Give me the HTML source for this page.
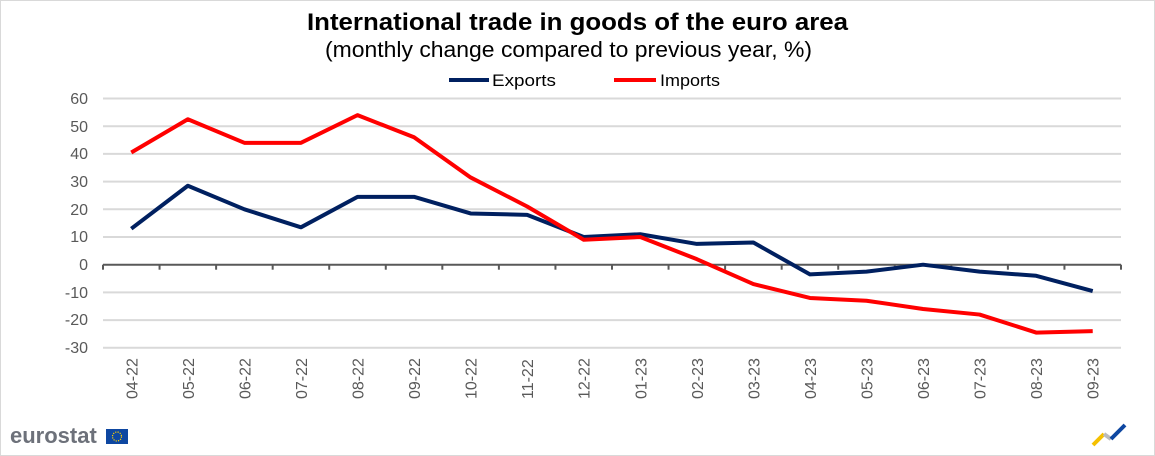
<!DOCTYPE html>
<html><head><meta charset="utf-8"><style>
body{margin:0;background:#fff}
svg{display:block;font-family:"Liberation Sans",sans-serif}
</style></head><body>
<svg width="1155" height="456" viewBox="0 0 1155 456" xmlns="http://www.w3.org/2000/svg">
<rect x="0.5" y="0.5" width="1154" height="455" fill="#fff" stroke="#d9d9d9"/>
<text x="307" y="30" font-size="24" font-weight="bold" fill="#000" textLength="541" lengthAdjust="spacingAndGlyphs">International trade in goods of the euro area</text>
<text x="325" y="57" font-size="22" fill="#000" textLength="487" lengthAdjust="spacingAndGlyphs">(monthly change compared to previous year, %)</text>
<line x1="449" y1="80" x2="489" y2="80" stroke="#002060" stroke-width="4"/>
<text x="492" y="86" font-size="17" fill="#000" textLength="64" lengthAdjust="spacingAndGlyphs">Exports</text>
<line x1="614" y1="80" x2="656" y2="80" stroke="#ff0000" stroke-width="4"/>
<text x="660" y="86" font-size="17" fill="#000" textLength="60" lengthAdjust="spacingAndGlyphs">Imports</text>
<g stroke="#d9d9d9" stroke-width="2">
<line x1="103" x2="1121" y1="98.5" y2="98.5"/>
<line x1="103" x2="1121" y1="126.2" y2="126.2"/>
<line x1="103" x2="1121" y1="153.9" y2="153.9"/>
<line x1="103" x2="1121" y1="181.6" y2="181.6"/>
<line x1="103" x2="1121" y1="209.3" y2="209.3"/>
<line x1="103" x2="1121" y1="237" y2="237"/>
<line x1="103" x2="1121" y1="292.4" y2="292.4"/>
<line x1="103" x2="1121" y1="320.1" y2="320.1"/>
<line x1="103" x2="1121" y1="347.8" y2="347.8"/>
</g>
<g font-size="16" fill="#595959" text-anchor="end">
<text x="88" y="104">60</text><text x="88" y="132">50</text><text x="88" y="159">40</text>
<text x="88" y="187">30</text><text x="88" y="215">20</text><text x="88" y="242">10</text>
<text x="88" y="270">0</text><text x="88" y="298">-10</text><text x="88" y="325">-20</text><text x="88" y="353">-30</text>
</g>
<g id="ax"></g>
<polyline fill="none" stroke="#002060" stroke-width="4" stroke-linejoin="round" points=""  id="ex"/>
<polyline fill="none" stroke="#ff0000" stroke-width="4" stroke-linejoin="round" points="" id="im"/>
<g id="xl" font-size="16" fill="#595959"></g>
<text x="10" y="443" font-size="22" font-weight="bold" fill="#6d717a">eurostat</text>
<rect x="106" y="429" width="22" height="15" fill="#0e47a1"/>
<circle cx="117" cy="436.5" r="4.5" fill="none" stroke="#ffd200" stroke-width="1.2" stroke-dasharray="1.2 1.2"/>
<line x1="1093" y1="445" x2="1104" y2="434" stroke="#f5c000" stroke-width="4"/>
<line x1="1104" y1="434" x2="1111" y2="439" stroke="#bbb" stroke-width="4"/>
<line x1="1111" y1="439" x2="1125" y2="425" stroke="#0e47a1" stroke-width="4"/>
<script>
var ex=[13,28.5,20,13.5,24.5,24.5,18.5,18,10,11,7.5,8,-3.5,-2.5,0,-2.5,-4,-9.5];
var im=[40.5,52.5,44,44,54,46,31.5,21,9,10,2,-7,-12,-13,-16,-18,-24.5,-24];
var lab=["04-22","05-22","06-22","07-22","08-22","09-22","10-22","11-22","12-22","01-23","02-23","03-23","04-23","05-23","06-23","07-23","08-23","09-23"];
var w=1018/18,y0=264.7,k=2.77,ns="http://www.w3.org/2000/svg";
function X(i){return 103+w*(i+0.5)}
function Y(v){return y0-v*k}
document.getElementById('ex').setAttribute('points',ex.map(function(v,i){return X(i)+','+Y(v)}).join(' '));
document.getElementById('im').setAttribute('points',im.map(function(v,i){return X(i)+','+Y(v)}).join(' '));
var ax=document.getElementById('ax');
var l=document.createElementNS(ns,'line');l.setAttribute('x1',103);l.setAttribute('x2',1121);l.setAttribute('y1',y0);l.setAttribute('y2',y0);l.setAttribute('stroke','#595959');l.setAttribute('stroke-width','2');ax.appendChild(l);
for(var i=0;i<=18;i++){var t=document.createElementNS(ns,'line');var x=103+w*i;t.setAttribute('x1',x);t.setAttribute('x2',x);t.setAttribute('y1',y0);t.setAttribute('y2',y0+5);t.setAttribute('stroke','#595959');t.setAttribute('stroke-width','2');ax.appendChild(t);}
var xl=document.getElementById('xl');
lab.forEach(function(s,i){var t=document.createElementNS(ns,'text');var x=X(i)+6,y=399;t.setAttribute('x',x);t.setAttribute('y',y);t.setAttribute('transform','rotate(-90 '+x+' '+y+')');t.textContent=s;xl.appendChild(t);});
</script>
</svg>
</body></html>
